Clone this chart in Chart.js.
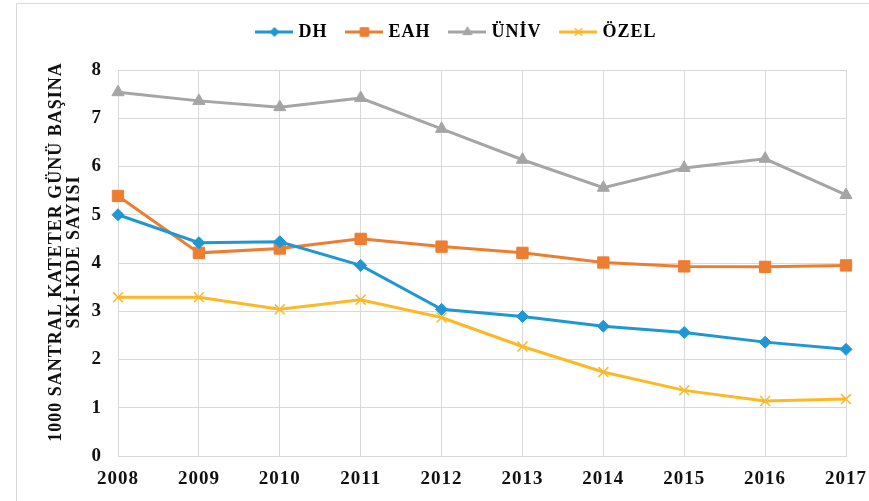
<!DOCTYPE html>
<html>
<head>
<meta charset="utf-8">
<script src="https://cdn.jsdelivr.net/npm/chart.js@4.4.1/dist/chart.umd.min.js"></script>
<style>
  html, body { margin: 0; padding: 0; background: #fff; }
  #wrap { width: 869px; height: 501px; }
</style>
</head>
<body>
<div id="wrap"><canvas id="grafico"></canvas></div>
<script>
// datos
const years = ['2008', '2009', '2010', '2011', '2012', '2013', '2014', '2015', '2016', '2017'];
const dh    = [5.00, 4.42, 4.44, 3.95, 3.04, 2.89, 2.69, 2.56, 2.36, 2.21];
const eah   = [5.39, 4.21, 4.30, 4.50, 4.34, 4.21, 4.01, 3.93, 3.92, 3.95];
const univ  = [7.54, 7.36, 7.23, 7.42, 6.78, 6.14, 5.56, 5.97, 6.16, 5.41];
const ozel  = [3.29, 3.29, 3.04, 3.24, 2.87, 2.27, 1.74, 1.36, 1.14, 1.18];
const yTitle = ['    1000 SANTRAL KATETER GÜNÜ BAŞINA', '    SKİ-KDE SAYISI'];

const serif = '"Liberation Serif", "Times New Roman", serif';

const series = [
  { label: 'DH',   data: dh,   color: '#1f97d4', style: 'rectRot',  radius: 6, bw: 1 },
  { label: 'EAH',  data: eah,  color: '#ed7d31', style: 'rect',     radius: 8, bw: 1 },
  { label: 'ÜNİV', data: univ, color: '#a5a5a5', style: 'triangle', radius: 7, bw: 1 },
  { label: 'ÖZEL', data: ozel, color: '#fdb826', style: 'crossRot', radius: 7, bw: 1.5 }
];

// icono de leyenda: linea + marcador
function legendIcon(s) {
  const c = document.createElement('canvas');
  c.width = 38; c.height = 16;
  const g = c.getContext('2d');
  g.strokeStyle = s.color; g.lineWidth = 3;
  g.beginPath(); g.moveTo(0, 8); g.lineTo(38, 8); g.stroke();
  g.fillStyle = s.color; g.lineWidth = s.bw;
  Chart.helpers.drawPoint(g, { pointStyle: s.style, radius: s.radius * 0.75, borderWidth: s.bw, rotation: 0 }, 19, 8);
  return c;
}

const frame = {
  id: 'frame',
  beforeUpdate(chart) {
    const lg = chart.legend;
    if (lg && !lg._patched) {
      const fit = lg.fit.bind(lg);
      lg.fit = function () { fit(); this.height += 19; };
      lg._patched = true;
    }
  },
  beforeLayout(chart) { chart.ctx.letterSpacing = '1px'; },
  beforeDraw(chart) {
    const ctx = chart.ctx;
    ctx.letterSpacing = '1px';
    ctx.save();
    ctx.strokeStyle = '#d9d9d9';
    ctx.lineWidth = 1;
    ctx.strokeRect(16.5, 3.5, 900, 600);
    ctx.restore();
  }
};

new Chart(document.getElementById('grafico'), {
  type: 'line',
  data: {
    labels: years,
    datasets: series.map(s => ({
      label: s.label,
      data: s.data,
      borderColor: s.color,
      backgroundColor: s.color,
      borderWidth: 3,
      pointStyle: s.style,
      pointRadius: s.radius,
      pointBorderWidth: s.bw,
      tension: 0,
      fill: false,
      icon: legendIcon(s)
    }))
  },
  options: {
    responsive: true,
    maintainAspectRatio: false,
    animation: false,
    layout: { padding: { top: 1, left: 47, right: 0, bottom: 0 } },
    plugins: {
      tooltip: { enabled: false },
      legend: {
        position: 'top',
        labels: {
          usePointStyle: true,
          pointStyleWidth: 30,
          padding: 22,
          color: '#111',
          font: { family: serif, size: 18, weight: 'bold' },
          generateLabels(chart) {
            return chart.data.datasets.map((d, i) => ({
              text: d.label,
              fillStyle: d.borderColor,
              strokeStyle: d.borderColor,
              pointStyle: d.icon,
              datasetIndex: i,
              hidden: false,
              lineWidth: 0
            }));
          }
        }
      }
    },
    scales: {
      x: {
        offset: false,
        grid: { color: '#d9d9d9', drawTicks: false },
        border: { color: '#d9d9d9' },
        ticks: {
          color: '#111',
          padding: 12,
          maxRotation: 0,
          font: { family: serif, size: 19, weight: 'bold' }
        },
        afterFit(scale) {
          scale.height = 45;
          scale.paddingLeft = 0;
          scale.paddingRight = 23;
        }
      },
      y: {
        min: 0,
        max: 8,
        grid: { color: '#d9d9d9', drawTicks: false },
        border: { display: false },
        ticks: {
          stepSize: 1,
          color: '#111',
          padding: 16,
          font: { family: serif, size: 19, weight: 'bold' }
        },
        title: {
          display: true,
          text: yTitle,
          color: '#111',
          padding: { top: 0, bottom: 0 },
          font: { family: serif, size: 18, weight: 'bold', lineHeight: 1.0 }
        },
        afterFit(scale) { scale.width = 71; }
      }
    }
  },
  plugins: [frame]
});
</script>
</body>
</html>
